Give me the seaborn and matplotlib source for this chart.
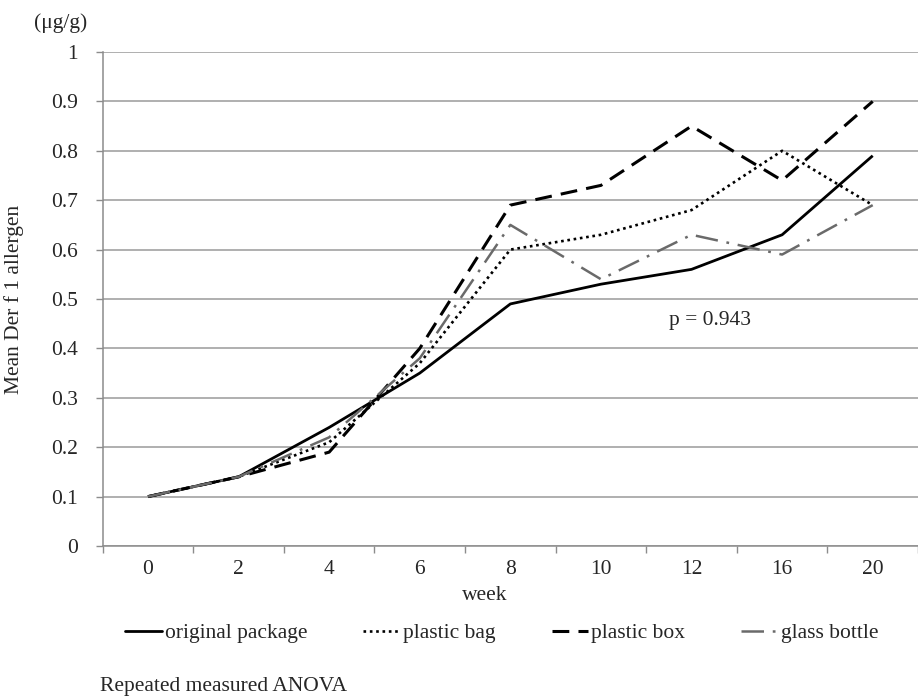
import numpy as np
import pandas as pd
import matplotlib
matplotlib.use("Agg")
import matplotlib.pyplot as plt
import seaborn as sns
from matplotlib.lines import Line2D

weeks = ["0", "2", "4", "6", "8", "10", "12", "16", "20"]
original_package = [0.10, 0.14, 0.24, 0.35, 0.49, 0.53, 0.56, 0.63, 0.79]
plastic_bag = [0.10, 0.14, 0.21, 0.37, 0.60, 0.63, 0.68, 0.80, 0.69]
plastic_box = [0.10, 0.14, 0.19, 0.40, 0.69, 0.73, 0.85, 0.74, 0.90]
glass_bottle = [0.10, 0.14, 0.22, 0.38, 0.65, 0.54, 0.63, 0.59, 0.69]
y_ticks = [0, 0.1, 0.2, 0.3, 0.4, 0.5, 0.6, 0.7, 0.8, 0.9, 1.0]
y_tick_labels = ["0", "0.1", "0.2", "0.3", "0.4", "0.5", "0.6", "0.7", "0.8", "0.9", "1"]

sns.set_theme(style="white")
plt.rcParams["font.family"] = ["Liberation Serif", "DejaVu Serif"]
FS = 15.5

W, H = 918, 696
fig = plt.figure(figsize=(W / 100, H / 100), dpi=100)
ax_l, ax_r, ax_t, ax_b = 102.7, 918.0, 52.0, 546.0
ax = fig.add_axes([ax_l / W, 1 - ax_b / H, (ax_r - ax_l) / W, (ax_b - ax_t) / H])

series = [
    ("original package", original_package, "black", 2.0, None),
    ("plastic bag", plastic_bag, "black", 1.9, (1, 1.4)),
    ("plastic box", plastic_box, "black", 2.2, (5.5, 3.0)),
    ("glass bottle", glass_bottle, "#6a6a6a", 1.8, (9, 3.5, 1.1, 3.5)),
]

handles = []
for name, vals, col, lw, dash in series:
    df = pd.DataFrame({"pos": np.arange(len(weeks)), "value": vals})
    sns.lineplot(data=df, x="pos", y="value", ax=ax, color=col, linewidth=lw,
                 legend=False, sort=False)
    line = ax.lines[-1]
    if dash is not None:
        line.set_dashes(dash)
    line.set_solid_capstyle("butt")
    h = Line2D([0], [0], color=col, linewidth=lw)
    if dash is not None:
        h.set_dashes(dash)
    handles.append((h, name))

ax.set_xlim(-0.494, 8.39)
ax.set_ylim(0, 1.0)
ax.set_xticks(np.arange(len(weeks)))
ax.set_xticklabels(weeks, fontsize=FS)
ax.set_xticks(np.arange(-0.5, len(weeks) + 0.5, 1), minor=True)
ax.tick_params(axis="x", which="major", length=0, pad=10)
ax.tick_params(axis="x", which="minor", length=5, width=1, color="#8c8c8c", direction="out", bottom=True)
ax.set_yticks(y_ticks)
ax.set_yticklabels(y_tick_labels, fontsize=FS)
ax.tick_params(axis="y", length=5, width=1, color="#8c8c8c", direction="out", left=True, pad=13)

ax.grid(axis="y", color="#9a9a9a", linewidth=1.1)
ax.grid(axis="x", visible=False)
for s in ["top", "right"]:
    ax.spines[s].set_visible(False)
for s in ["left", "bottom"]:
    ax.spines[s].set_color("#8c8c8c")
    ax.spines[s].set_linewidth(1.1)
ax.set_axisbelow(True)

ax.set_xlabel("")
ax.set_ylabel("Mean Der f 1 allergen", fontsize=FS)
ax.yaxis.set_label_coords((24 - ax_l) / (ax_r - ax_l), 0.5)

fig.text(61 / W, 1 - 23 / H, "(μg/g)", fontsize=FS, ha="center", va="center")
fig.text(710 / W, 1 - 320 / H, "p = 0.943", fontsize=FS, ha="center", va="center")
fig.text(485 / W, 1 - 595 / H, "week", fontsize=FS, ha="center", va="center")
fig.text(100 / W, 1 - 686 / H, "Repeated measured ANOVA", fontsize=FS, ha="left", va="center")

fig.legend([h for h, _ in handles], [n for _, n in handles], loc="center left",
           bbox_to_anchor=(125 / W, 1 - 633 / H), ncol=4, frameon=False,
           fontsize=FS, handlelength=1.7, handletextpad=0.15, columnspacing=2.6,
           borderpad=0, borderaxespad=0)

fig.savefig("out.png", dpi=100)
